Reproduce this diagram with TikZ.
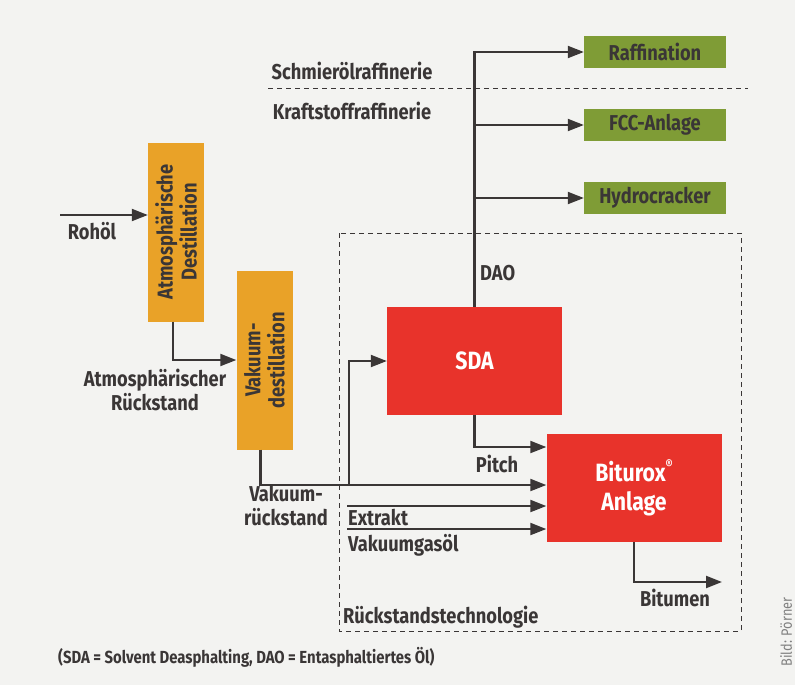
\documentclass[tikz,border=0pt]{standalone}
\usepackage{fontspec}
\setmainfont{Fira Sans}[FakeStretch=0.85]
\usetikzlibrary{arrows.meta}
\definecolor{bggray}{HTML}{F3F3F1}
\definecolor{txtgray}{HTML}{3A3636}
\definecolor{boxgreen}{HTML}{7F9C36}
\definecolor{boxorange}{HTML}{E9A228}
\definecolor{boxred}{HTML}{E8332B}

\begin{document}
\begin{tikzpicture}[x=1pt, y=-1pt, text=txtgray, font=\bfseries\fontsize{21.5}{24}\selectfont]
\tikzstyle{greenbox}=[rectangle, fill=boxgreen, minimum width=142pt, minimum height=32pt, inner sep=0pt]
\tikzstyle{orangebox}=[rectangle, fill=boxorange, minimum width=56pt, minimum height=179pt, inner sep=0pt]
\tikzstyle{redbox}=[rectangle, fill=boxred, text=white, minimum width=175pt, minimum height=108pt, inner sep=0pt, align=center, font=\bfseries\fontsize{25}{29}\selectfont]
\tikzstyle{flow}=[line width=2.2pt, draw=txtgray, -{Triangle[length=16pt, width=12pt]}]
\tikzstyle{sepline}=[line width=1pt, draw=txtgray, dash pattern=on 5pt off 4pt]
\tikzstyle{lbl}=[inner sep=0pt, align=center]

\fill[bggray] (0,0) rectangle (795,685);
\useasboundingbox (0,0) rectangle (795,685);

% areas
\draw[sepline] (268,88) -- (748,88);
\draw[sepline] (339,233) rectangle (741,631);
\node[lbl] (Schmier) at (352,71) {Schmierölraffinerie};
\node[lbl] (Kraft) at (352,111) {Kraftstoffraffinerie};
\node[lbl, anchor=west] (Rueck) at (343,617) {Rückstandstechnologie};

% units
\node[greenbox] (Raff) at (655,52) {Raffination};
\node[greenbox] (FCC) at (655,125) {FCC-Anlage};
\node[greenbox] (Hydro) at (655,198) {Hydrocracker};
\node[orangebox] (Atm) at (176,232) {};
\node[lbl, rotate=90] (AtmT) at (Atm) {Atmosphärische\\Destillation};
\node[orangebox] (Vak) at (264.5,360) {};
\node[lbl, rotate=90] (VakT) at (Vak) {Vakuum-\\destillation};
\node[redbox] (SDA) at (474.5,361) {SDA};
\node[redbox] (Bit) at (634,488) {Biturox\raisebox{0.5em}{\fontsize{13}{13}\selectfont ®}\\Anlage};

% free ends
\coordinate (crude) at (60,215);
\coordinate (riser) at (349,485);
\coordinate (extr) at (347,506);
\coordinate (vgo) at (347,529);
\coordinate (bitout) at (722,582);

% streams
\draw[flow] (crude) -- (crude -| Atm.west);
\draw[flow] ([xshift=-3pt]Atm.south) |- (Vak.west);
\draw[flow] ([xshift=-4pt]Vak.south) |- ([yshift=3pt]Bit.west);
\draw[flow] (riser) |- (SDA.west);
\draw[flow] (SDA.north) |- (Raff.west);
\draw[flow] (SDA.north) |- (FCC.west);
\draw[flow] (SDA.north) |- (Hydro.west);
\draw[flow] (SDA.south) |- ([yshift=41pt]Bit.west);
\draw[flow] (extr) -- (extr -| Bit.west);
\draw[flow] (vgo) -- (vgo -| Bit.west);
\draw[flow] (Bit.south) |- (bitout);

% stream labels
\node[lbl] (lRohoel) at (92,231) {Rohöl};
\node[lbl] (lAtmR) at (155,390) {Atmosphärischer\\Rückstand};
\node[lbl] (lVakR) at (286,506) {Vakuum-\\rückstand};
\node[lbl, anchor=west] (lDAO) at (480,273) {DAO};
\node[lbl] (lPitch) at (497,464) {Pitch};
\node[lbl, anchor=west] (lExtr) at (348,518) {Extrakt};
\node[lbl, anchor=west] (lVGO) at (348,545) {Vakuumgasöl};
\node[lbl] (lBitumen) at (675,598) {Bitumen};

% footnote, credit
\node[lbl, anchor=west, font=\bfseries\fontsize{17.5}{20}\selectfont] (Foot) at (58,657) {(SDA = Solvent Deasphalting, DAO = Entasphaltiertes Öl)};
\node[lbl, rotate=90, text=gray, font=\mdseries\fontsize{15}{17}\selectfont] (Credit) at (786,632) {Bild: Pörner};
\end{tikzpicture}
\end{document}
